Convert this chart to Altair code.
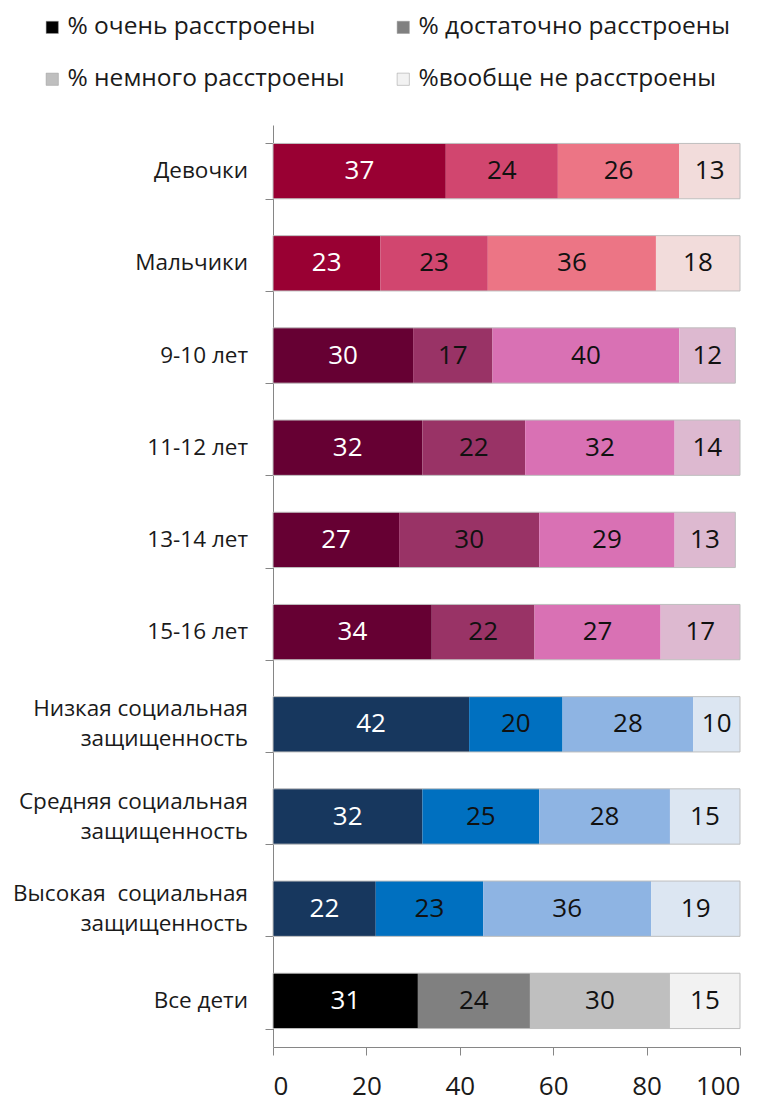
import altair as alt
import pandas as pd

categories = [
    "Девочки",
    "Мальчики",
    "9-10 лет",
    "11-12 лет",
    "13-14 лет",
    "15-16 лет",
    "Низкая социальная\nзащищенность",
    "Средняя социальная\nзащищенность",
    "Высокая\u00a0 социальная\nзащищенность",
    "Все дети",
]
groups = ["sex", "sex", "age", "age", "age", "age", "soc", "soc", "soc", "all"]

levels = ["% очень расстроены", "% достаточно расстроены",
          "% немного расстроены", "%вообще не расстроены"]

very = [37, 23, 30, 32, 27, 34, 42, 32, 22, 31]
quite = [24, 23, 17, 22, 30, 22, 20, 25, 23, 24]
little = [26, 36, 40, 32, 29, 27, 28, 28, 36, 30]
notat = [13, 18, 12, 14, 13, 17, 10, 15, 19, 15]

palettes = {
    "sex": ["#990033", "#D1466F", "#EC7585", "#F2DCDB"],
    "age": ["#660033", "#993366", "#D971B4", "#DDB9D0"],
    "soc": ["#17375E", "#0070C0", "#8EB4E3", "#DCE6F2"],
    "all": ["#000000", "#808080", "#BFBFBF", "#F2F2F2"],
}

series = [very, quite, little, notat]
rows = []
for i, cat in enumerate(categories):
    start = 0
    for l in range(4):
        v = series[l][i]
        rows.append({
            "cat": cat, "group": groups[i], "lvl": l, "level": levels[l],
            "key": f"{groups[i]}{l}", "v": v, "x0": start, "x1": start + v,
            "mid": start + v / 2,
        })
        start += v
df = pd.DataFrame(rows)
tot = df.groupby("cat", sort=False)["x1"].max().reset_index()
cat_df = pd.DataFrame({"cat": categories,
                       "multi": ["\n" in c for c in categories]})

key_domain = [f"{g}{l}" for g in palettes for l in range(4)]
key_range = [c for g in palettes for c in palettes[g]]

FONT = "Open Sans"
AX = "#868686"
TXT = "#1a1a1a"

y_enc = alt.Y("cat:N", sort=categories,
              scale=alt.Scale(paddingInner=0.4, paddingOuter=0.2),
              axis=alt.Axis(title=None, labels=False, tickBand="extent",
                            tickSize=8, tickColor=AX, domainColor=AX))
y_plain = alt.Y("cat:N", sort=categories)
x_scale = alt.Scale(domain=[0, 100], nice=False)
x_axis = alt.Axis(title=None, values=[0, 20, 40, 60, 80, 100], labelFontSize=26,
                  labelFont=FONT, labelColor=TXT, tickSize=8,
                  tickColor=AX, domainColor=AX, labelPadding=18, grid=False)

base = alt.Chart(df)

bars = base.mark_bar().encode(
    y=y_enc,
    x=alt.X("x0:Q", scale=x_scale, axis=x_axis),
    x2="x1:Q",
    color=alt.Color("key:N", scale=alt.Scale(domain=key_domain, range=key_range),
                    legend=None),
)

legend_bars = base.transform_filter(alt.datum.group == "all").mark_bar().encode(
    y=y_plain,
    x=alt.X("x0:Q", scale=x_scale),
    x2="x1:Q",
    color=alt.Color("level:N",
                    scale=alt.Scale(domain=levels, range=palettes["all"]),
                    legend=alt.Legend(title=None, orient="none", legendX=-233,
                                      legendY=-110, columns=2, direction="horizontal",
                                      symbolType="square", symbolSize=150,
                                      symbolStrokeColor="#999", symbolStrokeWidth=0.5,
                                      labelFontSize=24.5, labelFont=FONT,
                                      labelColor=TXT, columnPadding=46,
                                      rowPadding=27, labelLimit=400,
                                      labelOffset=3, symbolOffset=0)),
)

outline = alt.Chart(tot).mark_bar(fillOpacity=0, stroke="#BFBFBF", strokeWidth=1).encode(
    y=y_plain,
    x=alt.X("x0:Q", scale=x_scale),
    x2="x1:Q",
).transform_calculate(x0="0")

labels = base.mark_text(fontSize=26, font=FONT).encode(
    y=y_plain,
    x=alt.X("mid:Q", scale=x_scale),
    text="v:Q",
    color=alt.condition(alt.datum.lvl == 0, alt.value("white"), alt.value("#111111")),
)

cat_single = alt.Chart(cat_df).transform_filter(~alt.datum.multi).mark_text(
    align="right", baseline="middle", dx=-25, fontSize=22.5, font=FONT, color=TXT
).encode(y=y_plain, x=alt.value(0), text="cat:N")

cat_multi = alt.Chart(cat_df).transform_filter(alt.datum.multi).mark_text(
    align="right", baseline="middle", dx=-25, dy=-15, fontSize=22.5, font=FONT,
    color=TXT, lineBreak="\n", lineHeight=30
).encode(y=y_plain, x=alt.value(0), text="cat:N")

chart = alt.layer(bars, legend_bars, outline, labels, cat_single, cat_multi).resolve_scale(
    color="independent"
).properties(
    width=467, height=922,
    padding={"left": 5, "right": 5, "top": 7, "bottom": 5},
).configure_view(stroke=None)

chart.save("out.html", embed_options={"renderer": "svg", "actions": False})
